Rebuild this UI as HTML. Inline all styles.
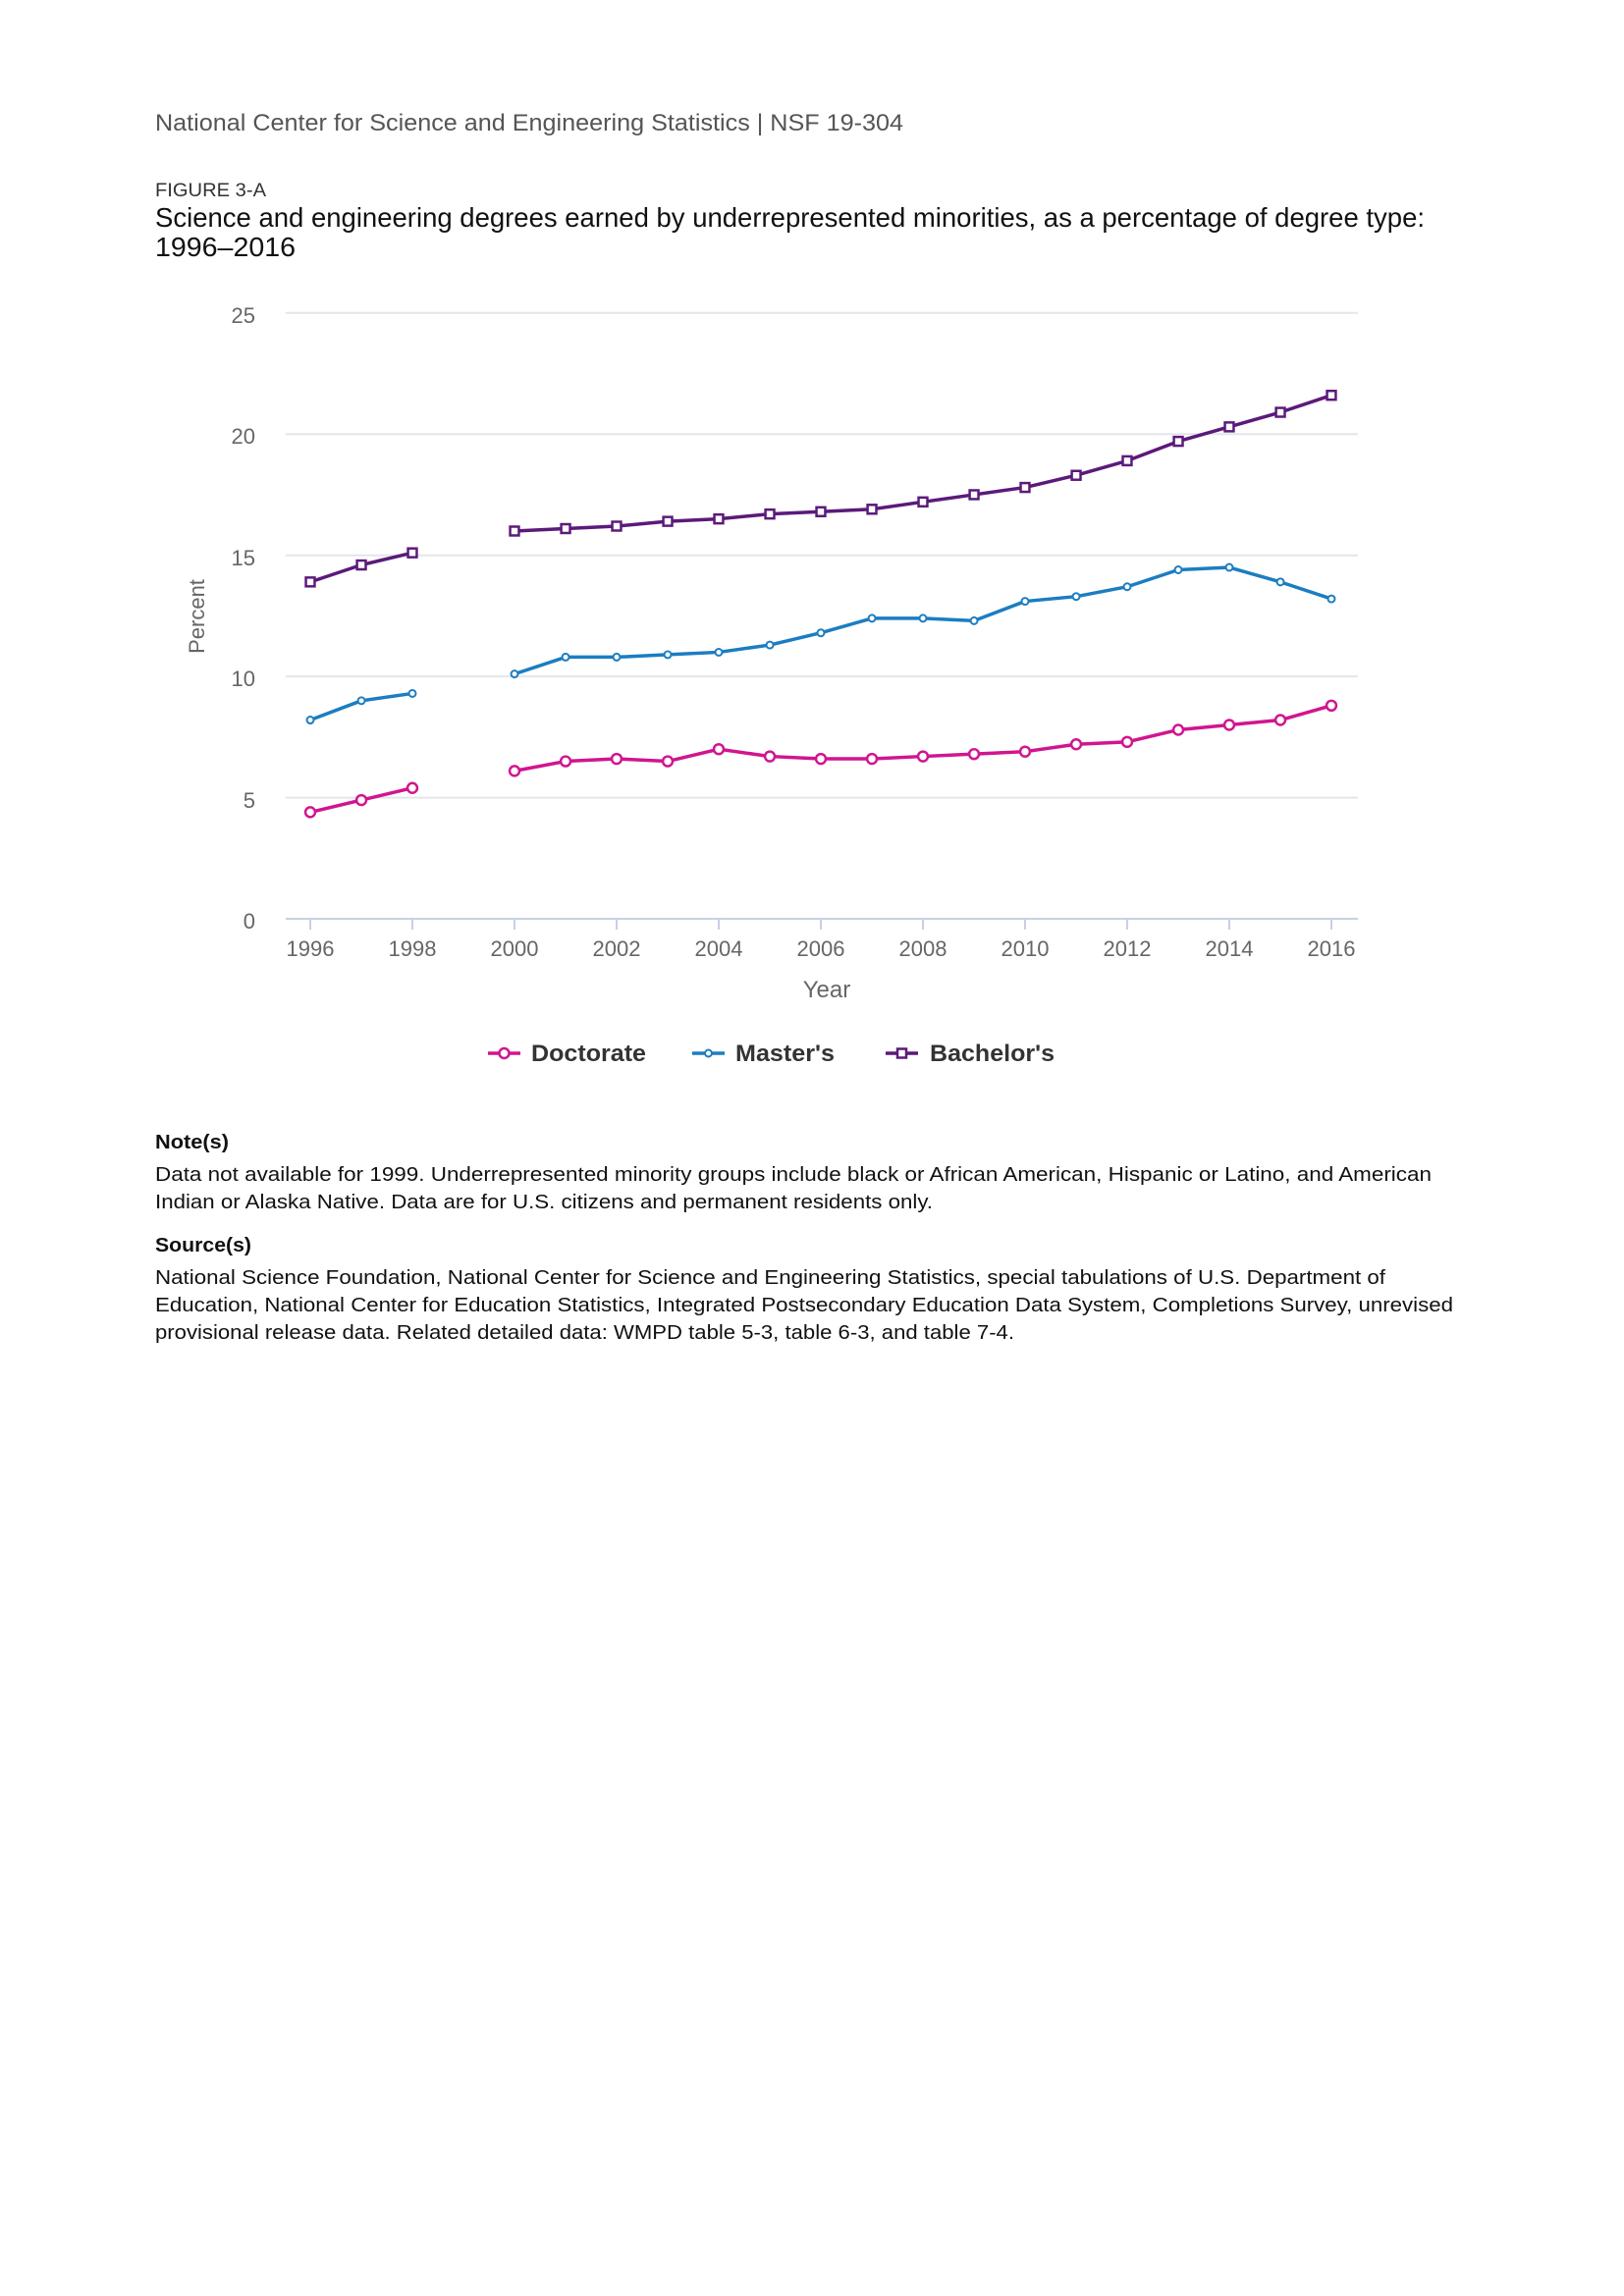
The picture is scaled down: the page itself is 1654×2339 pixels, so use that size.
<!DOCTYPE html>
<html><head><meta charset="utf-8"><style>
html,body{margin:0;padding:0;background:#fff;}
svg{display:block;}
text{font-family:"Liberation Sans",sans-serif;}
</style></head><body>
<svg width="1654" height="2339" viewBox="0 0 1654 2339" xmlns="http://www.w3.org/2000/svg">
<rect width="1654" height="2339" fill="#fff"/>
<text x="158" y="133" font-size="24" fill="#555" textLength="762" lengthAdjust="spacingAndGlyphs">National Center for Science and Engineering Statistics  |  NSF 19-304</text>
<text x="158" y="200" font-size="19" fill="#333" textLength="113" lengthAdjust="spacingAndGlyphs">FIGURE 3-A</text>
<text x="158" y="231" font-size="28" fill="#111" textLength="1293" lengthAdjust="spacingAndGlyphs">Science and engineering degrees earned by underrepresented minorities, as a percentage of degree type:</text>
<text x="158" y="261" font-size="28" fill="#111" textLength="143" lengthAdjust="spacingAndGlyphs">1996–2016</text>

<g stroke="#e3e6ea" stroke-width="2">
<line x1="291" y1="318.8" x2="1383" y2="318.8"/>
<line x1="291" y1="442.2" x2="1383" y2="442.2"/>
<line x1="291" y1="565.7" x2="1383" y2="565.7"/>
<line x1="291" y1="689.1" x2="1383" y2="689.1"/>
<line x1="291" y1="812.6" x2="1383" y2="812.6"/>
</g>
<line x1="291" y1="936" x2="1383" y2="936" stroke="#c8d0e6" stroke-width="2"/>
<g stroke="#c8d0e6" stroke-width="2">
<line x1="316" y1="936" x2="316" y2="947"/><line x1="420" y1="936" x2="420" y2="947"/><line x1="524" y1="936" x2="524" y2="947"/><line x1="628" y1="936" x2="628" y2="947"/><line x1="732" y1="936" x2="732" y2="947"/><line x1="836" y1="936" x2="836" y2="947"/><line x1="940" y1="936" x2="940" y2="947"/><line x1="1044" y1="936" x2="1044" y2="947"/><line x1="1148" y1="936" x2="1148" y2="947"/><line x1="1252" y1="936" x2="1252" y2="947"/><line x1="1356" y1="936" x2="1356" y2="947"/>
</g>
<g font-size="22" fill="#666" text-anchor="end">
<text x="260" y="329">25</text><text x="260" y="452">20</text><text x="260" y="576">15</text><text x="260" y="699">10</text><text x="260" y="823">5</text><text x="260" y="946">0</text>
</g>
<g font-size="22" fill="#666" text-anchor="middle">
<text x="316" y="974">1996</text><text x="420" y="974">1998</text><text x="524" y="974">2000</text><text x="628" y="974">2002</text><text x="732" y="974">2004</text><text x="836" y="974">2006</text><text x="940" y="974">2008</text><text x="1044" y="974">2010</text><text x="1148" y="974">2012</text><text x="1252" y="974">2014</text><text x="1356" y="974">2016</text>
</g>
<text x="842" y="1016" font-size="24" fill="#666" text-anchor="middle">Year</text>
<text transform="translate(208,628) rotate(-90)" font-size="22" fill="#666" text-anchor="middle">Percent</text>

<g transform="matrix(0.98953 0 0 0.99556 1.329 -0.8)">
<g fill="none" stroke-width="3.5" stroke-linejoin="round">
<polyline stroke="#5b1a7a" points="318,596.3 370.6,578.9 423.1,566.5"/>
<polyline stroke="#5b1a7a" points="528.2,544.2 580.8,541.7 633.3,539.2 685.9,534.3 738.4,531.8 791,526.8 843.5,524.4 896.1,521.9 948.6,514.4 1001.2,507 1053.7,499.6 1106.3,487.2 1158.8,472.3 1211.4,452.4 1263.9,437.6 1316.5,422.7 1369,405.3"/>
<polyline stroke="#1b7dc1" points="318,737.6 370.6,717.8 423.1,710.4"/>
<polyline stroke="#1b7dc1" points="528.2,690.5 580.8,673.2 633.3,673.2 685.9,670.7 738.4,668.2 791,660.8 843.5,648.4 896.1,633.5 948.6,633.5 1001.2,636 1053.7,616.1 1106.3,611.2 1158.8,601.2 1211.4,583.9 1263.9,581.4 1316.5,596.3 1369,613.6"/>
<polyline stroke="#d1158f" points="318,831.9 370.6,819.5 423.1,807.1"/>
<polyline stroke="#d1158f" points="528.2,789.7 580.8,779.8 633.3,777.3 685.9,779.8 738.4,767.4 791,774.8 843.5,777.3 896.1,777.3 948.6,774.8 1001.2,772.4 1053.7,769.9 1106.3,762.4 1158.8,760 1211.4,747.6 1263.9,742.6 1316.5,737.6 1369,722.8"/>
</g>
<g fill="#fff" stroke="#5b1a7a" stroke-width="2.5">
<rect x="313.5" y="591.8" width="9" height="9"/><rect x="366.1" y="574.4" width="9" height="9"/><rect x="418.6" y="562" width="9" height="9"/>
<rect x="523.7" y="539.7" width="9" height="9"/><rect x="576.3" y="537.2" width="9" height="9"/><rect x="628.8" y="534.7" width="9" height="9"/><rect x="681.4" y="529.8" width="9" height="9"/><rect x="733.9" y="527.3" width="9" height="9"/><rect x="786.5" y="522.3" width="9" height="9"/><rect x="839" y="519.9" width="9" height="9"/><rect x="891.6" y="517.4" width="9" height="9"/><rect x="944.1" y="509.9" width="9" height="9"/><rect x="996.7" y="502.5" width="9" height="9"/><rect x="1049.2" y="495.1" width="9" height="9"/><rect x="1101.8" y="482.7" width="9" height="9"/><rect x="1154.3" y="467.8" width="9" height="9"/><rect x="1206.9" y="447.9" width="9" height="9"/><rect x="1259.4" y="433.1" width="9" height="9"/><rect x="1312" y="418.2" width="9" height="9"/><rect x="1364.5" y="400.8" width="9" height="9"/>
</g>
<g fill="#fff" stroke="#1b7dc1" stroke-width="2">
<circle cx="318" cy="737.6" r="3.5"/><circle cx="370.6" cy="717.8" r="3.5"/><circle cx="423.1" cy="710.4" r="3.5"/>
<circle cx="528.2" cy="690.5" r="3.5"/><circle cx="580.8" cy="673.2" r="3.5"/><circle cx="633.3" cy="673.2" r="3.5"/><circle cx="685.9" cy="670.7" r="3.5"/><circle cx="738.4" cy="668.2" r="3.5"/><circle cx="791" cy="660.8" r="3.5"/><circle cx="843.5" cy="648.4" r="3.5"/><circle cx="896.1" cy="633.5" r="3.5"/><circle cx="948.6" cy="633.5" r="3.5"/><circle cx="1001.2" cy="636" r="3.5"/><circle cx="1053.7" cy="616.1" r="3.5"/><circle cx="1106.3" cy="611.2" r="3.5"/><circle cx="1158.8" cy="601.2" r="3.5"/><circle cx="1211.4" cy="583.9" r="3.5"/><circle cx="1263.9" cy="581.4" r="3.5"/><circle cx="1316.5" cy="596.3" r="3.5"/><circle cx="1369" cy="613.6" r="3.5"/>
</g>
<g fill="#fff" stroke="#d1158f" stroke-width="2.5">
<circle cx="318" cy="831.9" r="5"/><circle cx="370.6" cy="819.5" r="5"/><circle cx="423.1" cy="807.1" r="5"/>
<circle cx="528.2" cy="789.7" r="5"/><circle cx="580.8" cy="779.8" r="5"/><circle cx="633.3" cy="777.3" r="5"/><circle cx="685.9" cy="779.8" r="5"/><circle cx="738.4" cy="767.4" r="5"/><circle cx="791" cy="774.8" r="5"/><circle cx="843.5" cy="777.3" r="5"/><circle cx="896.1" cy="777.3" r="5"/><circle cx="948.6" cy="774.8" r="5"/><circle cx="1001.2" cy="772.4" r="5"/><circle cx="1053.7" cy="769.9" r="5"/><circle cx="1106.3" cy="762.4" r="5"/><circle cx="1158.8" cy="760" r="5"/><circle cx="1211.4" cy="747.6" r="5"/><circle cx="1263.9" cy="742.6" r="5"/><circle cx="1316.5" cy="737.6" r="5"/><circle cx="1369" cy="722.8" r="5"/>
</g>
</g>

<!-- legend -->
<line x1="497" y1="1073" x2="530" y2="1073" stroke="#d1158f" stroke-width="3.5"/>
<circle cx="513.5" cy="1073" r="5" fill="#fff" stroke="#d1158f" stroke-width="2.5"/>
<text x="541" y="1081" font-size="24" font-weight="bold" fill="#333" textLength="117" lengthAdjust="spacingAndGlyphs">Doctorate</text>
<line x1="705" y1="1073" x2="738" y2="1073" stroke="#1b7dc1" stroke-width="3.5"/>
<circle cx="721.5" cy="1073" r="3.5" fill="#fff" stroke="#1b7dc1" stroke-width="2"/>
<text x="749" y="1081" font-size="24" font-weight="bold" fill="#333" textLength="101" lengthAdjust="spacingAndGlyphs">Master's</text>
<line x1="902" y1="1073" x2="935" y2="1073" stroke="#5b1a7a" stroke-width="3.5"/>
<rect x="914" y="1068.5" width="9" height="9" fill="#fff" stroke="#5b1a7a" stroke-width="2.5"/>
<text x="947" y="1081" font-size="24" font-weight="bold" fill="#333" textLength="127" lengthAdjust="spacingAndGlyphs">Bachelor's</text>

<!-- notes -->
<g font-size="20" fill="#111">
<text x="158" y="1170" font-weight="bold" textLength="75" lengthAdjust="spacingAndGlyphs">Note(s)</text>
<text x="158" y="1203" textLength="1300" lengthAdjust="spacingAndGlyphs">Data not available for 1999. Underrepresented minority groups include black or African American, Hispanic or Latino, and American</text>
<text x="158" y="1231" textLength="792" lengthAdjust="spacingAndGlyphs">Indian or Alaska Native. Data are for U.S. citizens and permanent residents only.</text>
<text x="158" y="1275" font-weight="bold" textLength="98" lengthAdjust="spacingAndGlyphs">Source(s)</text>
<text x="158" y="1308" textLength="1253" lengthAdjust="spacingAndGlyphs">National Science Foundation, National Center for Science and Engineering Statistics, special tabulations of U.S. Department of</text>
<text x="158" y="1336" textLength="1322" lengthAdjust="spacingAndGlyphs">Education, National Center for Education Statistics, Integrated Postsecondary Education Data System, Completions Survey, unrevised</text>
<text x="158" y="1364" textLength="875" lengthAdjust="spacingAndGlyphs">provisional release data. Related detailed data: WMPD table 5-3, table 6-3, and table 7-4.</text>
</g>
</svg>
</body></html>
